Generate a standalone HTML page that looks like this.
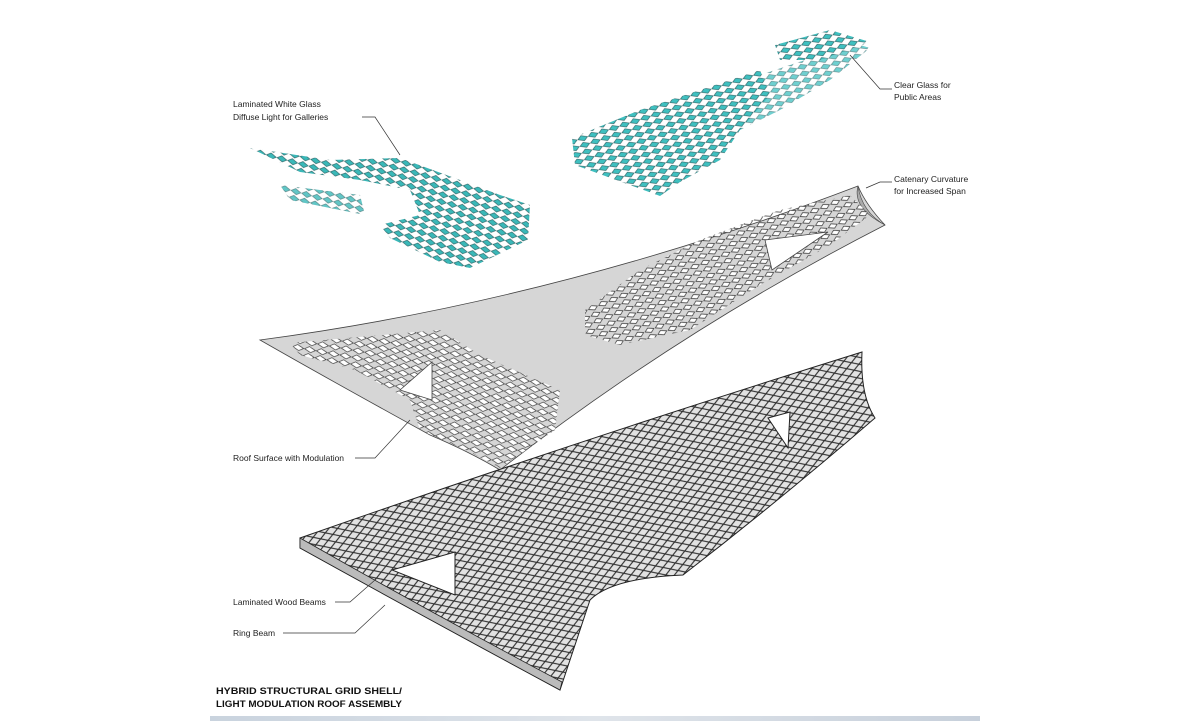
<!DOCTYPE html>
<html><head><meta charset="utf-8"><style>
html,body{margin:0;padding:0;background:#fff;}
svg{display:block;}
text{font-family:"Liberation Sans",Arial,sans-serif;font-size:8.5px;fill:#222;}
.t{font-weight:bold;font-size:9.5px;fill:#111;}
</style></head><body>
<svg width="1200" height="721" viewBox="0 0 1200 721" xmlns="http://www.w3.org/2000/svg">
<defs>
<pattern id="teal" width="11" height="7" patternUnits="userSpaceOnUse" patternTransform="rotate(-18)">
<rect width="11" height="7" fill="#fff"/>
<polygon points="0.5,3.5 4.5,0.6 10.5,3.5 6.5,6.4" fill="#3fc0c0" stroke="#2b5f60" stroke-width="0.6"/>
</pattern>
<pattern id="tealL" width="11" height="7" patternUnits="userSpaceOnUse" patternTransform="rotate(15)">
<rect width="11" height="7" fill="#fff"/>
<polygon points="0.5,3.5 4.5,0.6 10.5,3.5 6.5,6.4" fill="#3ab8b8" stroke="#2b5f60" stroke-width="0.6"/>
</pattern>
<pattern id="holes" width="11" height="7" patternUnits="userSpaceOnUse" patternTransform="rotate(-22)">
<polygon points="0.8,3.5 4.5,0.8 10.2,3.5 6.5,6.2" fill="#fff" stroke="#333" stroke-width="0.7"/>
</pattern>
<pattern id="holesL" width="12" height="7" patternUnits="userSpaceOnUse" patternTransform="rotate(10)">
<polygon points="0.5,3.5 5,0.6 11.5,3.5 7,6.4" fill="#fff" stroke="#333" stroke-width="0.7"/>
</pattern>
<pattern id="grid" width="13" height="8" patternUnits="userSpaceOnUse" patternTransform="rotate(-20)">
<rect width="13" height="8" fill="#e2e2e2"/>
<path d="M0,0 L13,8 M13,0 L0,8" stroke="#2a2a2a" stroke-width="1.1"/>
</pattern>
<linearGradient id="bar" x1="0" x2="1"><stop offset="0" stop-color="#c9d3de"/><stop offset="0.5" stop-color="#dfe4ea"/><stop offset="1" stop-color="#c7d0db"/></linearGradient>
</defs>

<path d="M250,148 L330,160 L400,158 L460,180 L500,195 L530,205 L528,240 L470,268 L440,262 L390,238 L380,225 L420,215 L410,190 L360,180 L300,172 Z" fill="url(#tealL)"/>
<path d="M280,185 L360,195 L365,215 L290,200 Z" fill="url(#tealL)" opacity="0.8"/>
<path d="M572,138 L640,110 L700,90 L760,70 L770,95 L740,130 L720,160 L680,182 L660,196 L575,165 Z" fill="url(#teal)"/>
<path d="M700,110 L760,75 L820,55 L860,45 L870,48 L830,80 L780,110 L720,140 Z" fill="url(#teal)" opacity="0.75"/>
<path d="M775,45 L830,30 L870,42 L820,60 L780,60 Z" fill="url(#teal)"/>

<path d="M260,340 Q560,300 858,186 Q866,205 885,225 Q680,330 500,470 Q470,452 430,435 Q330,380 260,340 Z" fill="#d6d6d6" stroke="#444" stroke-width="0.8"/>
<path d="M858,186 Q852,208 885,225 Q862,212 858,186 Z" fill="#aaa" stroke="#444" stroke-width="0.6"/>
<path d="M290,343 L440,330 L480,355 L560,390 L555,430 L500,468 L470,452 L420,430 L410,400 L355,370 L300,355 Z" fill="url(#holesL)"/>
<path d="M585,310 L640,270 L700,240 L780,210 L850,195 L870,215 L830,245 L760,285 L690,330 L620,345 L585,335 Z" fill="url(#holes)"/>
<polygon points="400,390 432,362 432,400" fill="#fff" stroke="#444" stroke-width="0.8"/>
<polygon points="765,240 828,232 772,270" fill="#fff" stroke="#444" stroke-width="0.8"/>

<path d="M300,538 Q580,440 862,352 Q860,395 875,418 Q780,500 683,575 Q612,578 590,600 L560,690 Q430,620 300,548 Z" fill="url(#grid)" stroke="#222" stroke-width="1"/>
<path d="M300,538 L300,548 Q430,620 560,690 L562,682 Q430,612 300,538 Z" fill="#bbb" stroke="#222" stroke-width="0.8"/>
<polygon points="392,570 455,552 455,595" fill="#fff" stroke="#222" stroke-width="1"/>
<polygon points="768,418 790,412 788,448" fill="#fff" stroke="#222" stroke-width="1"/>

<g fill="none" stroke="#333" stroke-width="0.7">
<path d="M362,117 L375,117 L400,155"/>
<path d="M892,89 L880,89 L850,55"/>
<path d="M892,182 L880,182 L866,188"/>
<path d="M355,458 L375,458 L410,420"/>
<path d="M335,602 L350,602 L375,580"/>
<path d="M283,633 L355,633 L385,605"/>
</g>

<text x="233" y="107">Laminated White Glass</text>
<text x="233" y="120">Diffuse Light for Galleries</text>
<text x="894" y="88">Clear Glass for</text>
<text x="894" y="100">Public Areas</text>
<text x="894" y="182">Catenary Curvature</text>
<text x="894" y="194">for Increased Span</text>
<text x="233" y="461">Roof Surface with Modulation</text>
<text x="233" y="605">Laminated Wood Beams</text>
<text x="233" y="636">Ring Beam</text>

<text class="t" x="216" y="694" textLength="186" lengthAdjust="spacingAndGlyphs">HYBRID STRUCTURAL GRID SHELL/</text>
<text class="t" x="216" y="707" textLength="186" lengthAdjust="spacingAndGlyphs">LIGHT MODULATION ROOF ASSEMBLY</text>
<rect x="210" y="716" width="770" height="5" fill="url(#bar)"/>
</svg>
</body></html>
